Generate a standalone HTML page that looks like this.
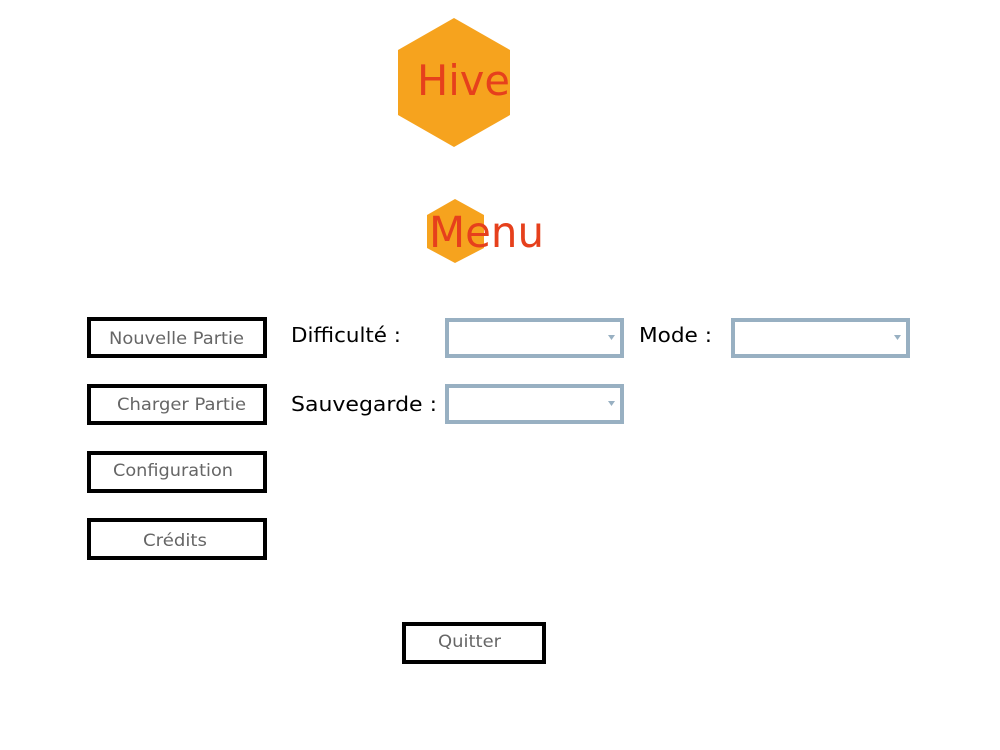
<!DOCTYPE html>
<html><head><meta charset="utf-8"><style>
html,body{margin:0;padding:0;background:#fff;width:1000px;height:750px;overflow:hidden}
svg{display:block}
text{font-family:"DejaVu Sans","Liberation Sans",sans-serif}
</style></head><body>
<svg width="1000" height="750" viewBox="0 0 1000 750" xmlns="http://www.w3.org/2000/svg">
<polygon points="454,18 510,50 510,115 454,147 398,115 398,50" fill="#f6a31e"/>
<text x="417" y="95" font-size="42" fill="#e6401c" textLength="93" lengthAdjust="spacingAndGlyphs">Hive</text>
<polygon points="455,199 484,215 484,248 455,263 427,248 427,215" fill="#f6a31e"/>
<text x="429" y="247" font-size="43" fill="#e6401c" textLength="115" lengthAdjust="spacingAndGlyphs">Menu</text>

<g fill="none" stroke="#000" stroke-width="4">
<rect x="89" y="319" width="176" height="37"/>
<rect x="89" y="386" width="176" height="37"/>
<rect x="89" y="453" width="176" height="38"/>
<rect x="89" y="520" width="176" height="38"/>
<rect x="404" y="624" width="140" height="38"/>
</g>
<g font-size="17" fill="#666">
<text x="109" y="344" textLength="135" lengthAdjust="spacingAndGlyphs">Nouvelle Partie</text>
<text x="117" y="410" textLength="129" lengthAdjust="spacingAndGlyphs">Charger Partie</text>
<text x="113" y="476" textLength="120" lengthAdjust="spacingAndGlyphs">Configuration</text>
<text x="143" y="546" textLength="64" lengthAdjust="spacingAndGlyphs">Crédits</text>
<text x="438" y="647" textLength="63" lengthAdjust="spacingAndGlyphs">Quitter</text>
</g>
<g font-size="20" fill="#000">
<text x="291" y="342" textLength="110" lengthAdjust="spacingAndGlyphs">Difficulté :</text>
<text x="639" y="342" textLength="73" lengthAdjust="spacingAndGlyphs">Mode :</text>
<text x="291" y="411" textLength="146" lengthAdjust="spacingAndGlyphs">Sauvegarde :</text>
</g>
<g fill="none" stroke="#98b0c2" stroke-width="4">
<rect x="447" y="320" width="175" height="36"/>
<rect x="733" y="320" width="175" height="36"/>
<rect x="447" y="386" width="175" height="36"/>
</g>
<g fill="#98b0c2">
<polygon points="608,335 615,335 611.5,340"/>
<polygon points="894,335 901,335 897.5,340"/>
<polygon points="608,401 615,401 611.5,406"/>
</g>
</svg>
</body></html>
